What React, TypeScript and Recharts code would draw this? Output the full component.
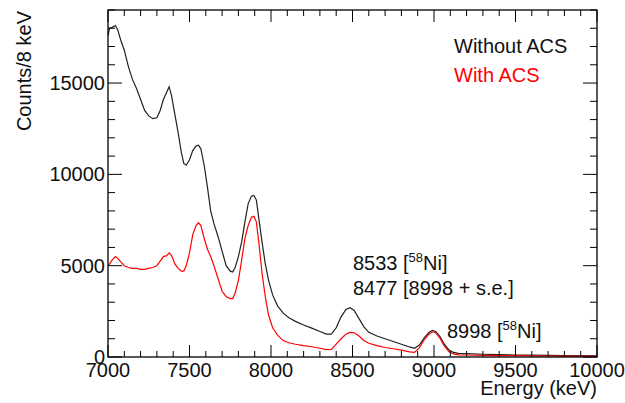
import { Line, LineChart, XAxis, YAxis } from 'recharts'

// energy (keV) of each read-off point
const energy = [
  7000, 7010, 7025, 7045, 7060, 7080, 7100, 7125, 7150, 7175, 7200, 7225, 7250, 7275, 7300, 7320,
  7340, 7360, 7375, 7390, 7410, 7430, 7450, 7465, 7480, 7500, 7520, 7540, 7555, 7570, 7590, 7610,
  7630, 7650, 7675, 7700, 7725, 7750, 7765, 7780, 7800, 7820, 7840, 7860, 7880, 7895, 7910, 7925,
  7945, 7965, 7985, 8010, 8040, 8075, 8110, 8150, 8200, 8250, 8300, 8340, 8370, 8400, 8430, 8460,
  8485, 8510, 8540, 8570, 8600, 8650, 8700, 8750, 8800, 8850, 8880, 8910, 8940, 8970, 8990, 9010,
  9035, 9060, 9090, 9120, 9150, 9200, 9300, 9400, 9500, 9600, 9700, 9800, 9900, 10000,
]

// counts/8 keV without anti-Compton shield
const withoutACS = [
  17600, 18000, 18050, 18150, 17900, 17300, 16800, 15900, 15200, 14700, 14100, 13500, 13200, 13050, 13100, 13500,
  14100, 14500, 14800, 14300, 13300, 12300, 11200, 10600, 10500, 10800, 11300, 11550, 11600, 11400, 10500, 9300,
  8000, 7300, 6600, 5800, 5000, 4700, 4650, 4900, 5500, 6300, 7400, 8400, 8800, 8850, 8600, 7600,
  6300, 5100, 4200, 3400, 2800, 2400, 2150, 1950, 1750, 1580, 1400, 1250, 1250, 1600, 2200, 2600,
  2700, 2550, 2100, 1650, 1350, 1150, 1000, 850, 700, 550, 480, 650, 1050, 1350, 1450, 1400,
  1150, 750, 400, 250, 200, 180, 150, 130, 110, 100, 90, 80, 70, 60,
]

// counts/8 keV with anti-Compton shield
const withACS = [
  5000, 5100, 5300, 5500, 5400, 5200, 5000, 4900, 4850, 4850, 4800, 4800, 4850, 4900, 5000, 5250,
  5500, 5550, 5700, 5550, 5100, 4850, 4700, 4700, 5000, 5700, 6700, 7200, 7350, 7200, 6500, 5900,
  5500, 5000, 4300, 3600, 3300, 3200, 3200, 3500, 4200, 5300, 6500, 7200, 7650, 7700, 7400, 6300,
  4600, 3300, 2300, 1600, 1200, 900, 780, 700, 620, 560, 480, 400, 420, 700, 1000, 1250,
  1350, 1330, 1150, 900, 750, 620, 520, 450, 380, 280, 250, 500, 950, 1250, 1380, 1330,
  1050, 650, 300, 170, 120, 110, 90, 80, 70, 60, 55, 50, 45, 40,
]

const xMajor = [7000, 7500, 8000, 8500, 9000, 9500, 10000]
const yMajor = [0, 5000, 10000, 15000]
const xTicks = Array.from({ length: 31 }, (_, i) => 7000 + i * 100)
const yTicks = Array.from({ length: 20 }, (_, i) => i * 1000)

const data = energy.map((e, i) => ({ e, b: withoutACS[i], r: withACS[i] }))

const W = 625
const H = 403
const PL = 108
const PT = 10
const PR = 597
const PB = 357
const FONT = '"Liberation Sans", Arial, sans-serif'

function XTick({ x, payload }: any) {
  const v = payload.value
  const major = xMajor.includes(v)
  const len = major ? 12 : 6
  return (
    <g>
      <line x1={x} y1={PB} x2={x} y2={PB - len} stroke="#000" strokeWidth={1} />
      <line x1={x} y1={PT} x2={x} y2={PT + len} stroke="#000" strokeWidth={1} />
      {major && (
        <text x={x} y={377} textAnchor="middle" fontSize={20} fontFamily={FONT} fill="#111">
          {v}
        </text>
      )}
    </g>
  )
}

function YTick({ y, payload }: any) {
  const v = payload.value
  const major = yMajor.includes(v)
  const len = major ? 14 : 7
  return (
    <g>
      <line x1={PL} y1={y} x2={PL + len} y2={y} stroke="#000" strokeWidth={1} />
      <line x1={PR} y1={y} x2={PR - len} y2={y} stroke="#000" strokeWidth={1} />
      {major && (
        <text x={PL - 3} y={y + 7} textAnchor="end" fontSize={20} fontFamily={FONT} fill="#111">
          {v}
        </text>
      )}
    </g>
  )
}

export default function App() {
  return (
    <div style={{ position: 'absolute', left: 0, top: 0, width: W, height: H, background: '#fff' }}>
      <LineChart width={W} height={H} data={data} margin={{ top: PT, right: W - PR, bottom: 0, left: 0 }}>
        <XAxis
          dataKey="e"
          type="number"
          domain={[7000, 10000]}
          ticks={xTicks}
          interval={0}
          height={H - PB}
          tickLine={false}
          axisLine={false}
          tick={<XTick />}
        />
        <YAxis
          type="number"
          domain={[0, 19000]}
          ticks={yTicks}
          interval={0}
          width={PL}
          tickLine={false}
          axisLine={false}
          tick={<YTick />}
        />
        <Line type="linear" dataKey="b" stroke="#222" strokeWidth={1.2} dot={false} isAnimationActive={false} />
        <Line type="linear" dataKey="r" stroke="#ff0000" strokeWidth={1.2} dot={false} isAnimationActive={false} />
      </LineChart>
      <svg
        width={W}
        height={H}
        style={{ position: 'absolute', left: 0, top: 0, pointerEvents: 'none' }}
        fontFamily={FONT}
      >
        <rect x={PL} y={PT} width={PR - PL} height={PB - PT} fill="none" stroke="#000" strokeWidth={1.3} />
        <text x={PR} y={395} textAnchor="end" fontSize={20} fill="#111">
          Energy (keV)
        </text>
        <text x={31} y={11} textAnchor="end" fontSize={20} fill="#111" transform="rotate(-90 31 11)">
          Counts/8 keV
        </text>
        <text x={454} y={53} fontSize={20} fill="#111">
          Without ACS
        </text>
        <text x={454} y={82} fontSize={20} fill="#ff0000">
          With ACS
        </text>
        <text x={353} y={270} fontSize={20} fill="#111">
          8533 [<tspan fontSize={13} dy={-8}>58</tspan>
          <tspan dy={8}>Ni]</tspan>
        </text>
        <text x={353} y={295} fontSize={20} fill="#111">
          8477 [8998 + s.e.]
        </text>
        <text x={447} y={338} fontSize={20} fill="#111">
          8998 [<tspan fontSize={13} dy={-8}>58</tspan>
          <tspan dy={8}>Ni]</tspan>
        </text>
      </svg>
    </div>
  )
}
